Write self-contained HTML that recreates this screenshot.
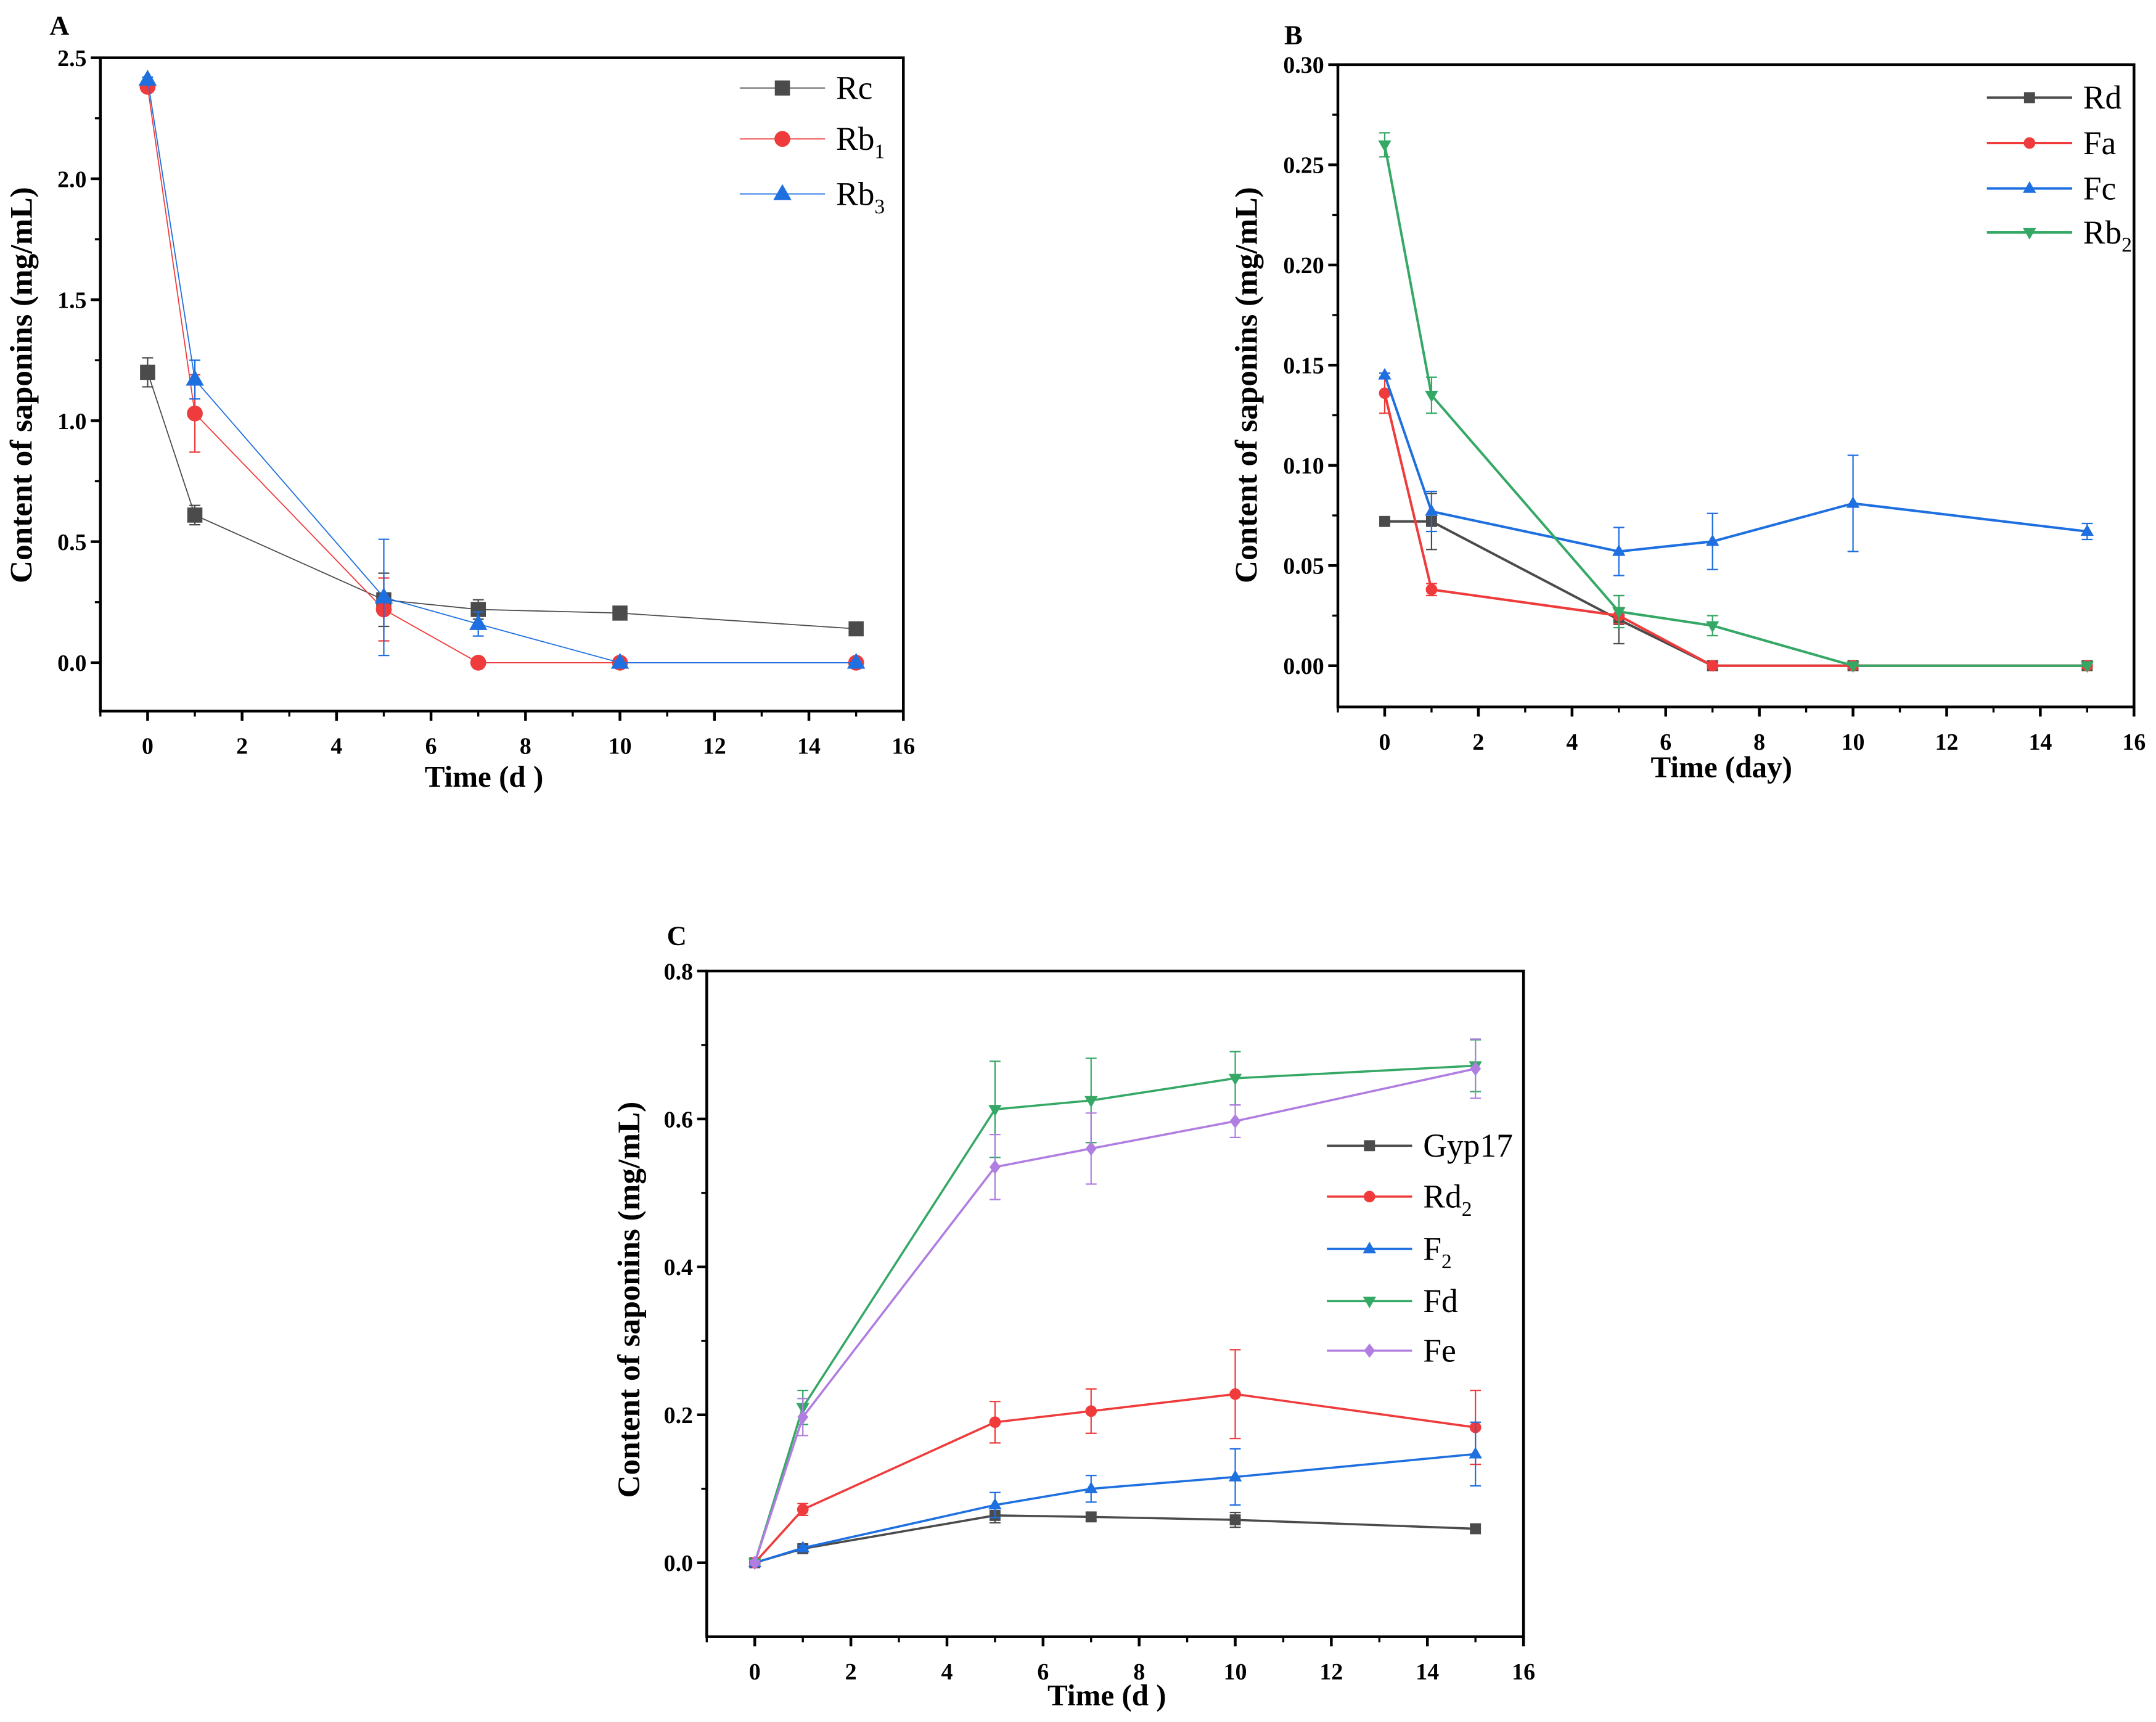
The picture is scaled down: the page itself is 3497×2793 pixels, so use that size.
<!DOCTYPE html>
<html><head><meta charset="utf-8"><style>
html,body{margin:0;padding:0;background:#fff;}
svg{display:block;}
text{font-family:"Liberation Serif",serif;}
</style></head><body>
<svg id="fig" width="3497" height="2793" viewBox="0 0 1568 1252" preserveAspectRatio="none" xmlns="http://www.w3.org/2000/svg"></svg>
<script>
const days = [0, 1, 5, 7, 10, 15];
const xTicks = [0, 2, 4, 6, 8, 10, 12, 14, 16];
// Panel A
const aNames = ["Rc", "Rb", "Rb"];
const aSubs = ["", "1", "3"];
const aRc = [1.2, 0.61, 0.26, 0.22, 0.205, 0.14];
const aRcErr = [0.06, 0.04, 0.11, 0.04, 0.02, 0.02];
const aRb1 = [2.38, 1.03, 0.22, 0, 0, 0];
const aRb1Err = [0.01, 0.16, 0.13, 0, 0, 0];
const aRb3 = [2.41, 1.17, 0.27, 0.16, 0, 0];
const aRb3Err = [0.01, 0.08, 0.24, 0.05, 0, 0];
const aYTicks = [0.0, 0.5, 1.0, 1.5, 2.0, 2.5];
const aYLabels = ["0.0", "0.5", "1.0", "1.5", "2.0", "2.5"];
// Panel B
const bNames = ["Rd", "Fa", "Fc", "Rb"];
const bSubs = ["", "", "", "2"];
const bRd = [0.072, 0.072, 0.023, 0, 0, 0];
const bRdErr = [0.001, 0.014, 0.012, 0, 0, 0];
const bFa = [0.136, 0.038, 0.025, 0, 0, 0];
const bFaErr = [0.01, 0.003, 0.004, 0, 0, 0];
const bFc = [0.145, 0.077, 0.057, 0.062, 0.081, 0.067];
const bFcErr = [0.001, 0.01, 0.012, 0.014, 0.024, 0.004];
const bRb2 = [0.26, 0.135, 0.027, 0.02, 0, 0];
const bRb2Err = [0.006, 0.009, 0.008, 0.005, 0, 0];
const bYTicks = [0, 0.05, 0.1, 0.15, 0.2, 0.25, 0.3];
const bYLabels = ["0.00", "0.05", "0.10", "0.15", "0.20", "0.25", "0.30"];
// Panel C
const cNames = ["Gyp17", "Rd", "F", "Fd", "Fe"];
const cSubs = ["", "2", "2", "", ""];
const cGyp17 = [0, 0.019, 0.064, 0.062, 0.058, 0.046];
const cGyp17Err = [0.003, 0.003, 0.01, 0.005, 0.01, 0.006];
const cRd2 = [0, 0.072, 0.19, 0.205, 0.228, 0.183];
const cRd2Err = [0.003, 0.008, 0.028, 0.03, 0.06, 0.05];
const cF2 = [0, 0.02, 0.078, 0.1, 0.116, 0.147];
const cF2Err = [0.002, 0.003, 0.017, 0.018, 0.038, 0.043];
const cFd = [0, 0.21, 0.613, 0.625, 0.655, 0.672];
const cFdErr = [0.003, 0.023, 0.065, 0.057, 0.036, 0.035];
const cFe = [0, 0.197, 0.535, 0.56, 0.597, 0.668];
const cFeErr = [0.003, 0.025, 0.044, 0.048, 0.022, 0.04];
const cYTicks = [0, 0.2, 0.4, 0.6, 0.8];
const cYLabels = ["0.0", "0.2", "0.4", "0.6", "0.8"];

const NS = "http://www.w3.org/2000/svg";
const svg = document.getElementById('fig');
function mk(tag, attrs, parent) {
  const e = document.createElementNS(NS, tag);
  for (const k in attrs) e.setAttribute(k, attrs[k]);
  (parent || svg).appendChild(e);
  return e;
}
const COL = {k: "#4b4b4b", r: "#ef3b3b", b: "#1e6fe0", g: "#35a866", p: "#b07ee0"};

function marker(g, shape, x, y, s, color) {
  let e;
  if (shape === "sq") e = mk("rect", {x: x - s, y: y - s, width: 2 * s, height: 2 * s, fill: color}, g);
  else if (shape === "ci") e = mk("circle", {cx: x, cy: y, r: s * 1.05, fill: color}, g);
  else if (shape === "up") e = mk("polygon", {points: `${x},${y - s * 1.3} ${x - s * 1.2},${y + s * 0.8} ${x + s * 1.2},${y + s * 0.8}`, fill: color}, g);
  else if (shape === "dn") e = mk("polygon", {points: `${x},${y + s * 1.3} ${x - s * 1.2},${y - s * 0.8} ${x + s * 1.2},${y - s * 0.8}`, fill: color}, g);
  else e = mk("polygon", {points: `${x},${y - s * 1.3} ${x - s},${y} ${x},${y + s * 1.3} ${x + s},${y}`, fill: color}, g);
  
  
}

function panel(cfg) {
  const g = mk("g", {});
  
  
  const X = v => cfg.L + (v - cfg.xMin) / (cfg.xMax - cfg.xMin) * (cfg.R - cfg.L);
  const Y = v => cfg.B - (v - cfg.yMin) / (cfg.yMax - cfg.yMin) * (cfg.B - cfg.T);
  const lt = mk("text", {x: cfg.letterX, y: cfg.letterY, "font-size": 20, "font-weight": "bold"}, g);
  lt.textContent = cfg.letter;
  
  
  cfg.series.forEach((s, si) => {
    const sg = mk("g", {}, g);
    
    
    s.vals.forEach((v, i) => {
      const e = s.err[i]; if (!e) return;
      const x = X(days[i]);
      mk("path", {d: `M${x},${Y(v + e)}V${Y(v - e)}M${x - 4},${Y(v + e)}H${x + 4}M${x - 4},${Y(v - e)}H${x + 4}`, stroke: s.color, "stroke-width": 1, fill: "none"}, sg);
    });
    const pts = s.vals.map((v, i) => X(days[i]) + "," + Y(v)).join(" ");
    const pl = mk("polyline", {points: pts, fill: "none", stroke: s.color, "stroke-width": cfg.lw}, sg);
    
    
    s.vals.forEach((v, i) => marker(sg, s.shape, X(days[i]), Y(v), cfg.ms, s.color));
  });
  const fr = mk("rect", {x: cfg.L, y: cfg.T, width: cfg.R - cfg.L, height: cfg.B - cfg.T, fill: "none", stroke: "#000", "stroke-width": 2}, g);
  
  
  xTicks.forEach(t => {
    const x = X(t);
    mk("line", {x1: x, x2: x, y1: cfg.B, y2: cfg.B + 7, stroke: "#000", "stroke-width": 2}, g);
    mk("line", {x1: X(t - 1), x2: X(t - 1), y1: cfg.B, y2: cfg.B + 4, stroke: "#000", "stroke-width": 1.5}, g);
    const tx = mk("text", {x: x, y: cfg.B + 31, "font-size": 17, "font-weight": "bold", "text-anchor": "middle"}, g);
    tx.textContent = t;
    
    
  });
  cfg.yTicks.forEach((t, i) => {
    const y = Y(t);
    mk("line", {x1: cfg.L - 7, x2: cfg.L, y1: y, y2: y, stroke: "#000", "stroke-width": 2}, g);
    if (i < cfg.yTicks.length - 1) {
      const ym = Y((t + cfg.yTicks[i + 1]) / 2);
      mk("line", {x1: cfg.L - 4, x2: cfg.L, y1: ym, y2: ym, stroke: "#000", "stroke-width": 1.5}, g);
    }
    const tx = mk("text", {x: cfg.L - 10, y: y + 6, "font-size": 17, "font-weight": "bold", "text-anchor": "end"}, g);
    tx.textContent = cfg.yLabels[i];
    
    
  });
  const xt = mk("text", {x: cfg.xtX, y: cfg.xtY, "font-size": 22, "font-weight": "bold", "text-anchor": "middle"}, g);
  xt.textContent = cfg.xTitle;
  
  
  const yt = mk("text", {x: 0, y: 0, "font-size": 23, "font-weight": "bold", "text-anchor": "middle", transform: `translate(${cfg.ytX},${cfg.ytY}) rotate(-90)`}, g);
  yt.textContent = "Content of saponins (mg/mL)";
  
  
  const lg = mk("g", {}, g);
  
  
  cfg.series.forEach((s, si) => {
    const y = cfg.legY[si];
    const le = mk("g", {}, lg);
    
    
    mk("line", {x1: cfg.legX, x2: cfg.legX + 62, y1: y, y2: y, stroke: s.color, "stroke-width": cfg.lw}, le);
    marker(le, s.shape, cfg.legX + 31, y, cfg.ms, s.color);
    const t = mk("text", {x: cfg.legX + 70, y: y + 8, "font-size": 24}, le);
    t.textContent = cfg.names[si];
    if (cfg.subs[si]) {
      const ts = mk("tspan", {"font-size": 15, dy: 6}, t);
      ts.textContent = cfg.subs[si];
    }
  });
}

panel({letter: "A", letterX: 36, letterY: 25, L: 73, R: 657, T: 42, B: 517, xMin: -1, xMax: 16, yMin: -0.2, yMax: 2.5,
  yTicks: aYTicks, yLabels: aYLabels, xTitle: "Time (d )", xtX: 352, xtY: 572, ytX: 23, ytY: 280, lw: 0.8, ms: 5.5,
  names: aNames, subs: aSubs, legX: 538, legY: [64, 101, 141],
  series: [{vals: aRc, err: aRcErr, color: COL.k, shape: "sq"}, {vals: aRb1, err: aRb1Err, color: COL.r, shape: "ci"}, {vals: aRb3, err: aRb3Err, color: COL.b, shape: "up"}]});

panel({letter: "B", letterX: 934, letterY: 32, L: 973, R: 1552, T: 47, B: 514, xMin: -1, xMax: 16, yMin: -0.0206, yMax: 0.3,
  yTicks: bYTicks, yLabels: bYLabels, xTitle: "Time (day)", xtX: 1252, xtY: 565, ytX: 914, ytY: 280, lw: 1.8, ms: 4,
  names: bNames, subs: bSubs, legX: 1445, legY: [71, 104, 137, 169],
  series: [{vals: bRd, err: bRdErr, color: COL.k, shape: "sq"}, {vals: bFa, err: bFaErr, color: COL.r, shape: "ci"}, {vals: bFc, err: bFcErr, color: COL.b, shape: "up"}, {vals: bRb2, err: bRb2Err, color: COL.g, shape: "dn"}]});

panel({letter: "C", letterX: 485, letterY: 687, L: 514, R: 1108, T: 706, B: 1190, xMin: -1, xMax: 16, yMin: -0.1, yMax: 0.8,
  yTicks: cYTicks, yLabels: cYLabels, xTitle: "Time (d )", xtX: 805, xtY: 1240, ytX: 465, ytY: 945, lw: 1.6, ms: 4,
  names: cNames, subs: cSubs, legX: 965, legY: [833, 870, 908, 946, 982],
  series: [{vals: cGyp17, err: cGyp17Err, color: COL.k, shape: "sq"}, {vals: cRd2, err: cRd2Err, color: COL.r, shape: "ci"}, {vals: cF2, err: cF2Err, color: COL.b, shape: "up"}, {vals: cFd, err: cFdErr, color: COL.g, shape: "dn"}, {vals: cFe, err: cFeErr, color: COL.p, shape: "di"}]});
</script>
</body></html>
